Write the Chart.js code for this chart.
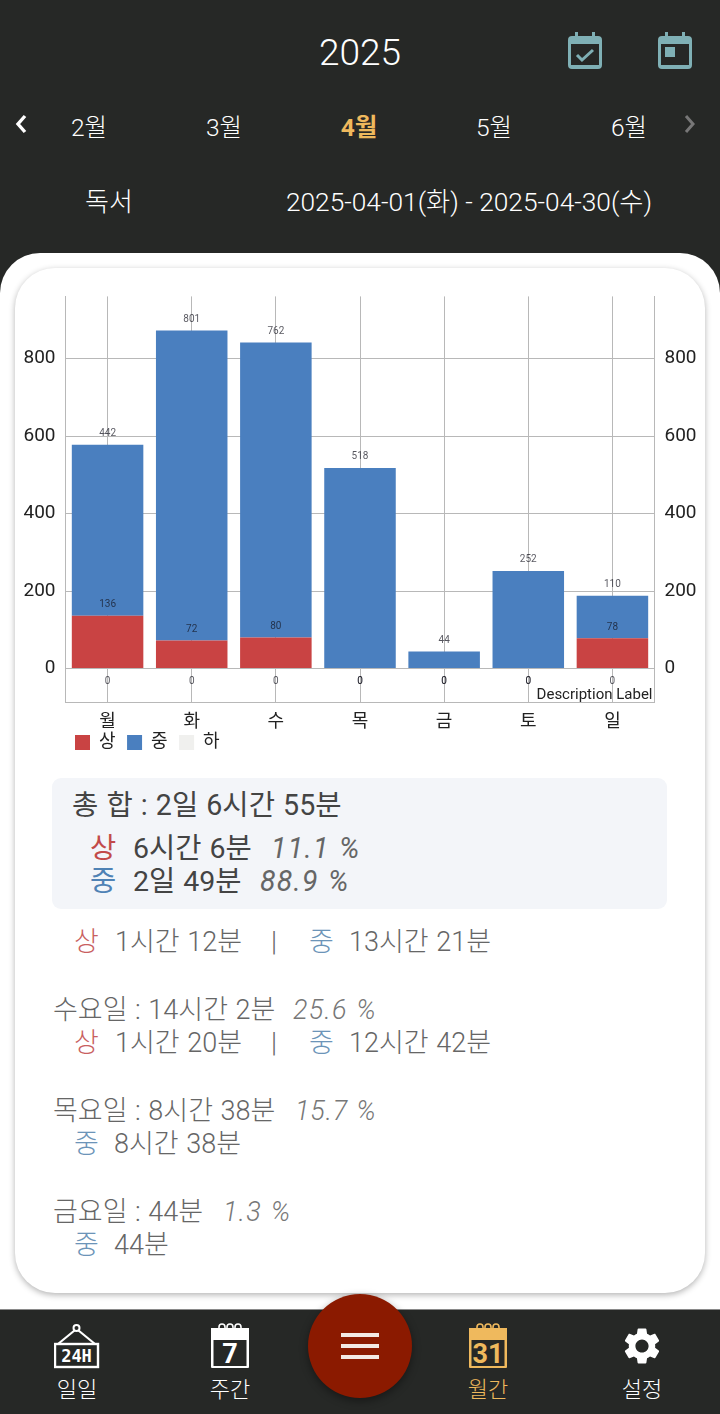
<!DOCTYPE html>
<html lang="ko">
<head>
<meta charset="utf-8">
<title>독서 월간</title>
<script src="https://cdn.jsdelivr.net/npm/chart.js@4/dist/chart.umd.min.js"></script>
<style>
  html, body { margin: 0; padding: 0; }
  body { width: 720px; height: 1414px; position: relative; overflow: hidden; background: #262826; font-family: Roboto, "Noto Sans CJK KR", sans-serif; }
  .sheet { position: absolute; left: 0; top: 253px; width: 720px; height: 1056px; background: #fff; border-radius: 40px 40px 0 0; }
  .card { position: absolute; left: 15px; top: 268px; width: 690px; height: 1025px; background: #fff; border-radius: 40px; box-shadow: 0 2px 6px rgba(0,0,0,.3); }
  .box { position: absolute; left: 52px; top: 778px; width: 615px; height: 131px; background: #f3f5f9; border-radius: 9px; }
  canvas { position: absolute; left: 0; top: 275px; }
  .t { position: absolute; white-space: nowrap; line-height: 1; transform: translateY(calc(-50% + 1px)); font-weight: 300; color: #666; font-size: 27px; word-spacing: 1px; }
  .c { transform: translate(-50%, calc(-50% + 1px)); }
  .w { color: #fff; }
  .i { font-style: italic; color: #777; letter-spacing: 1.2px; }
  .r { color: #c9605f; }
  .b { color: #6c94b8; }
  .d { color: #444; font-weight: 400; font-size: 28.5px; }
  .gold { color: #efb95d; }
  .nav { position: absolute; left: 0; top: 1309px; width: 720px; height: 105px; background: #262826; border-top: 1px solid #8a8a8a; box-sizing: border-box; }
  .fab { position: absolute; left: 308px; top: 1294px; width: 104px; height: 104px; border-radius: 50%; background: #8b1a00; box-shadow: 0 3px 8px rgba(0,0,0,.4); }
  .fab i { position: absolute; left: 33px; width: 38px; height: 4px; background: #f4e9e4; }
  svg { position: absolute; }
</style>
</head>
<body>
<div class="sheet"></div>
<div class="card"></div>

<span class="t c w" style="left:360px;top:51px;font-size:37px">2025</span>
<svg style="left:568px;top:32px" width="34" height="37" viewBox="0 0 34 37"><path d="M7 0h3v4h14V0h3v4h3a4 4 0 0 1 4 4v25a4 4 0 0 1-4 4H4a4 4 0 0 1-4-4V8a4 4 0 0 1 4-4h3z" fill="#7fb0b5"/><rect x="3" y="12" width="28" height="21" fill="#262826"/><path d="M9 23l5 5 11-10" fill="none" stroke="#7fb0b5" stroke-width="3"/></svg>
<svg style="left:658px;top:32px" width="34" height="37" viewBox="0 0 34 37"><path d="M7 0h3v4h14V0h3v4h3a4 4 0 0 1 4 4v25a4 4 0 0 1-4 4H4a4 4 0 0 1-4-4V8a4 4 0 0 1 4-4h3z" fill="#7fb0b5"/><rect x="3" y="12" width="28" height="21" fill="#262826"/><rect x="7" y="15" width="10" height="10" fill="#7fb0b5"/></svg>
<svg style="left:14px;top:114px" width="14" height="20" viewBox="0 0 14 20"><path d="M11 2L4 10l7 8" fill="none" stroke="#fff" stroke-width="3.4"/></svg>
<svg style="left:683px;top:114px" width="14" height="20" viewBox="0 0 14 20"><path d="M3 2l7 8-7 8" fill="none" stroke="#777" stroke-width="3"/></svg>
<span class="t c w" style="left:89px;top:127px;font-size:24.5px">2월</span>
<span class="t c w" style="left:224px;top:127px;font-size:24.5px">3월</span>
<span class="t c gold" style="left:359px;top:127px;font-size:24.5px;font-weight:700">4월</span>
<span class="t c w" style="left:494px;top:127px;font-size:24.5px">5월</span>
<span class="t c w" style="left:629px;top:127px;font-size:24.5px">6월</span>
<span class="t c w" style="left:109px;top:201px;font-size:26px">독서</span>
<span class="t c w" style="left:469px;top:201px;font-size:26.300px;word-spacing:0">2025-04-01(화) - 2025-04-30(수)</span>

<canvas id="weekChart" width="720" height="503" style="width:720px;height:503px"></canvas>

<div class="box"></div>
<span class="t d" style="left:72px;top:804px;font-size:28.600px">총 합 : 2일 6시간 55분</span>
<span class="t d r" style="left:90px;top:848px;color:#c24a4a">상</span>
<span class="t d" style="left:133px;top:848px">6시간 6분</span>
<span class="t d i" style="left:271px;top:848px;color:#666">11.1 %</span>
<span class="t d b" style="left:90px;top:881px;color:#4f82b5">중</span>
<span class="t d" style="left:133px;top:881px">2일 49분</span>
<span class="t d i" style="left:260px;top:881px;color:#666">88.9 %</span>

<span class="t r" style="left:74px;top:941px">상</span>
<span class="t" style="left:115px;top:941px">1시간 12분</span>
<span class="t" style="left:271px;top:941px">|</span>
<span class="t b" style="left:309px;top:941px">중</span>
<span class="t" style="left:349px;top:941px">13시간 21분</span>

<span class="t" style="left:53px;top:1009px">수요일 : 14시간 2분</span>
<span class="t i" style="left:293px;top:1009px">25.6 %</span>
<span class="t r" style="left:74px;top:1042px">상</span>
<span class="t" style="left:115px;top:1042px">1시간 20분</span>
<span class="t" style="left:271px;top:1042px">|</span>
<span class="t b" style="left:309px;top:1042px">중</span>
<span class="t" style="left:349px;top:1042px">12시간 42분</span>

<span class="t" style="left:53px;top:1110px">목요일 : 8시간 38분</span>
<span class="t i" style="left:295px;top:1110px;letter-spacing:.8px">15.7 %</span>
<span class="t b" style="left:74px;top:1143px">중</span>
<span class="t" style="left:114px;top:1143px">8시간 38분</span>

<span class="t" style="left:53px;top:1211px">금요일 : 44분</span>
<span class="t i" style="left:223px;top:1211px">1.3 %</span>
<span class="t b" style="left:74px;top:1244px">중</span>
<span class="t" style="left:114px;top:1244px">44분</span>

<div class="nav"></div>
<svg style="left:54px;top:1323px" width="46" height="46" viewBox="0 0 46 46"><circle cx="22.500" cy="5" r="3" fill="none" stroke="#fff" stroke-width="2"/><path d="M20.500 7.500L4 21M24.500 7.500L41 21" stroke="#fff" stroke-width="2.200"/><rect x="1" y="21" width="43" height="23" fill="none" stroke="#fff" stroke-width="2.400"/><text x="22.500" y="39" text-anchor="middle" fill="#fff" font-family="DejaVu Sans Mono" font-weight="700" font-size="17">24H</text></svg>
<svg style="left:210px;top:1323px" width="40" height="46" viewBox="0 0 40 46"><path d="M1 5h38v39a1 1 0 0 1-1 1H2a1 1 0 0 1-1-1z" fill="#fff"/><rect x="3.500" y="17" width="33" height="26" fill="#262826"/><path d="M9 6V4a3 3 0 0 1 6 0v2M17 6V4a3 3 0 0 1 6 0v2M25 6V4a3 3 0 0 1 6 0v2" fill="none" stroke="#fff" stroke-width="1.600"/><text x="20" y="40" text-anchor="middle" fill="#fff" font-family="Roboto" font-weight="700" font-size="27">7</text></svg>
<svg style="left:468px;top:1323px" width="40" height="46" viewBox="0 0 40 46"><path d="M1 5h38v39a1 1 0 0 1-1 1H2a1 1 0 0 1-1-1z" fill="#efb95d"/><rect x="3.500" y="17" width="33" height="26" fill="#262826"/><path d="M9 6V4a3 3 0 0 1 6 0v2M17 6V4a3 3 0 0 1 6 0v2M25 6V4a3 3 0 0 1 6 0v2" fill="none" stroke="#efb95d" stroke-width="1.600"/><text x="20" y="40" text-anchor="middle" fill="#efb95d" font-family="Roboto" font-weight="700" font-size="27">31</text></svg>
<svg style="left:620px;top:1324px" width="44" height="44" viewBox="0 0 24 24"><path fill="#fff" d="M19.14 12.94c.04-.3.06-.61.06-.94 0-.32-.02-.64-.07-.94l2.03-1.58c.18-.14.23-.41.12-.61l-1.92-3.32c-.12-.22-.37-.29-.59-.22l-2.39.96c-.5-.38-1.03-.7-1.62-.94l-.36-2.54c-.04-.24-.24-.41-.48-.41h-3.84c-.24 0-.43.17-.47.41l-.36 2.54c-.59.24-1.13.57-1.62.94l-2.39-.96c-.22-.08-.47 0-.59.22L2.74 8.87c-.12.21-.08.47.12.61l2.03 1.58c-.05.3-.09.63-.09.94s.02.64.07.94l-2.03 1.58c-.18.14-.23.41-.12.61l1.92 3.32c.12.22.37.29.59.22l2.39-.96c.5.38 1.03.7 1.62.94l.36 2.54c.05.24.24.41.48.41h3.84c.24 0 .44-.17.47-.41l.36-2.54c.59-.24 1.13-.56 1.62-.94l2.39.96c.22.08.47 0 .59-.22l1.92-3.32c.12-.22.07-.47-.12-.61l-2.01-1.58zM12 15.600c-1.980 0-3.600-1.620-3.600-3.600s1.620-3.600 3.600-3.600 3.600 1.620 3.600 3.600-1.620 3.600-3.600 3.600z"/></svg>
<span class="t c w" style="left:77px;top:1389px;font-size:22px">일일</span>
<span class="t c w" style="left:230px;top:1389px;font-size:22px">주간</span>
<span class="t c gold" style="left:488px;top:1389px;font-size:22px">월간</span>
<span class="t c w" style="left:642px;top:1389px;font-size:22px">설정</span>
<div class="fab"><i style="top:39px"></i><i style="top:50px"></i><i style="top:61px"></i></div>

<script>
const days = ["월", "화", "수", "목", "금", "토", "일"];
const highValues = [136, 72, 80, 0, 0, 0, 78];
const midValues = [442, 801, 762, 518, 44, 252, 110];
const lowValues = [0, 0, 0, 0, 0, 0, 0];
const yTicks = [0, 200, 400, 600, 800];

const fontFamily = 'Roboto, "Noto Sans CJK KR", sans-serif';

// value labels sit above each stack segment, zero values fall under the baseline
const valueLabels = {
  id: "valueLabels",
  afterDatasetsDraw(chart) {
    const ctx = chart.ctx;
    const zero = chart.scales.y.getPixelForValue(0);
    ctx.save();
    ctx.font = "10px " + fontFamily;
    ctx.textAlign = "center";
    ctx.textBaseline = "middle";
    ctx.fillStyle = "rgba(20,20,30,.72)";
    chart.data.datasets.forEach((ds, i) => {
      chart.getDatasetMeta(i).data.forEach((bar, j) => {
        const y = ds.data[j] === 0 ? zero + 13 : bar.y - 11;
        ctx.fillText(ds.data[j], bar.x, y);
      });
    });
    ctx.font = "15px " + fontFamily;
    ctx.textAlign = "right";
    ctx.fillStyle = "#222";
    ctx.fillText("Description Label", chart.chartArea.right - 2, chart.chartArea.bottom - 7);
    ctx.restore();
  }
};

const legendSpot = {
  id: "legendSpot",
  afterLayout(chart) {
    chart.legend.left = 63.5;
    chart.legend.top = 447;
  }
};

new Chart(document.getElementById("weekChart"), {
  type: "bar",
  plugins: [valueLabels, legendSpot],
  data: {
    labels: days,
    datasets: [
      { label: "상", data: highValues, backgroundColor: "#c94343" },
      { label: "중", data: midValues, backgroundColor: "#4a7fbf" },
      { label: "하", data: lowValues, backgroundColor: "#f0f0ee" }
    ]
  },
  options: {
    responsive: false,
    animation: false,
    devicePixelRatio: 1,
    barPercentage: 0.85,
    categoryPercentage: 1,
    layout: { padding: { top: 1 } },
    plugins: {
      tooltip: { enabled: false },
      legend: {
        position: "bottom",
        align: "start",
        labels: { boxWidth: 15, boxHeight: 15, padding: 11.5, color: "#222", font: { size: 18, family: fontFamily } }
      }
    },
    scales: {
      x: {
        stacked: true,
        grid: { offset: false, color: "#b8b8b8", drawTicks: false },
        border: { color: "#b8b8b8" },
        ticks: { color: "#222", padding: 9, font: { size: 18, family: fontFamily } },
        afterFit(scale) { scale.height = 36; }
      },
      y: {
        stacked: true,
        min: -88,
        max: 961,
        grid: { color: "#b8b8b8", drawTicks: false },
        border: { color: "#b8b8b8" },
        ticks: { color: "#222", padding: 10, font: { size: 19, family: fontFamily } },
        afterBuildTicks(scale) { scale.ticks = yTicks.map(v => ({ value: v })); },
        afterFit(scale) { scale.width = 65.5; }
      },
      y2: {
        position: "right",
        min: -88,
        max: 961,
        grid: { display: false, drawTicks: false },
        border: { color: "#b8b8b8" },
        ticks: { color: "#222", padding: 10, font: { size: 19, family: fontFamily } },
        afterBuildTicks(scale) { scale.ticks = yTicks.map(v => ({ value: v })); },
        afterFit(scale) { scale.width = 65.5; }
      }
    }
  }
});
</script>
</body>
</html>
